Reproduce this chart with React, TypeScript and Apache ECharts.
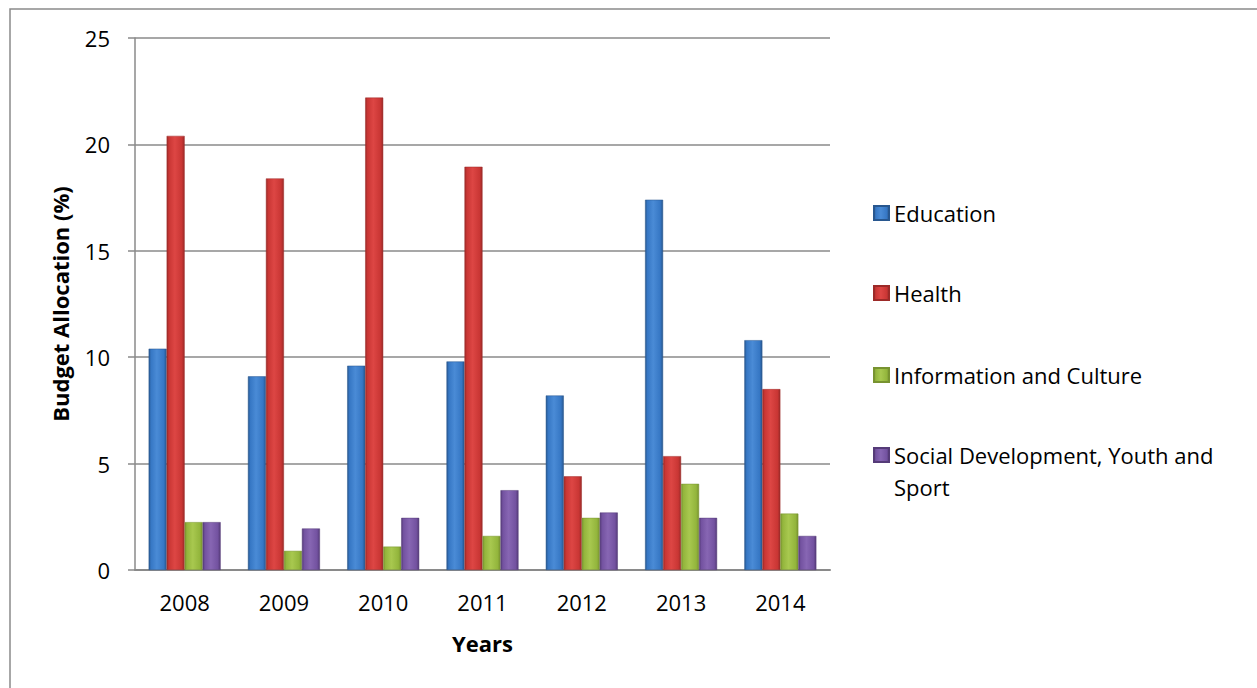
import React, { useEffect, useRef } from "react";
import * as echarts from "echarts";

const years = ["2008", "2009", "2010", "2011", "2012", "2013", "2014"];
const education = [10.4, 9.1, 9.6, 9.8, 8.2, 17.4, 10.8];
const health = [20.4, 18.4, 22.2, 18.95, 4.4, 5.35, 8.5];
const infoCulture = [2.25, 0.9, 1.1, 1.6, 2.45, 4.05, 2.65];
const socialDev = [2.25, 1.95, 2.45, 3.75, 2.7, 2.45, 1.6];
const seriesNames = [
  "Education",
  "Health",
  "Information and Culture",
  "Social Development, Youth and Sport",
];

const palette = [
  { edge: "#28578f", mid: "#3677c4", light: "#4a8bd6" },
  { edge: "#9c2a28", mid: "#c93634", light: "#dd4644" },
  { edge: "#789330", mid: "#93b53c", light: "#a8c84f" },
  { edge: "#553b78", mid: "#7352a0", light: "#8766b3" },
];

function grad(p: { edge: string; mid: string; light: string }) {
  return new echarts.graphic.LinearGradient(0, 0, 1, 0, [
    { offset: 0, color: p.edge },
    { offset: 0.12, color: p.mid },
    { offset: 0.45, color: p.light },
    { offset: 0.85, color: p.mid },
    { offset: 1, color: p.edge },
  ]);
}

const FONT = "'Open Sans', sans-serif";

export default function App() {
  const ref = useRef<HTMLDivElement>(null);
  useEffect(() => {
    if (!ref.current) return;
    const chart = echarts.init(ref.current, undefined, { renderer: "svg" });
    const dataSets = [education, health, infoCulture, socialDev];
    const legendTops = [192, 272, 354, 402];
    chart.setOption({
      animation: false,
      backgroundColor: "#ffffff",
      textStyle: { fontFamily: FONT },
      graphic: [
        {
          type: "rect",
          shape: { x: 10, y: 9, width: 1400, height: 800 },
          style: { fill: "none", stroke: "#8a8a8a", lineWidth: 1.5 },
          silent: true,
        },
      ],
      grid: { left: 135, right: 427, top: 38, bottom: 118 },
      legend: seriesNames.map((n, i) => ({
        data: [n],
        orient: "vertical",
        left: 868,
        top: legendTops[i],
        itemWidth: 15,
        itemHeight: 14,
        icon: "rect",
        selectedMode: false,
        formatter: (name: string) =>
          name === "Social Development, Youth and Sport"
            ? "\nSocial Development, Youth and\nSport"
            : name,
        textStyle: {
          fontFamily: FONT,
          fontSize: 22,
          color: "#000",
          lineHeight: 32,
        },
      })),
      xAxis: {
        type: "category",
        data: years,
        name: "Years",
        nameLocation: "middle",
        nameGap: 62,
        nameTextStyle: { fontFamily: FONT, fontSize: 22, fontWeight: "bold", color: "#000" },
        axisLine: { lineStyle: { color: "#8a8a8a", width: 2 } },
        axisTick: { show: false },
        axisLabel: { fontFamily: FONT, fontSize: 22, color: "#000", margin: 21 },
      },
      yAxis: {
        type: "value",
        min: 0,
        max: 25,
        interval: 5,
        name: "Budget Allocation (%)",
        nameLocation: "middle",
        nameGap: 64,
        nameTextStyle: { fontFamily: FONT, fontSize: 22, fontWeight: "bold", color: "#000" },
        axisLine: { show: true, lineStyle: { color: "#8a8a8a", width: 1.5 } },
        axisTick: { show: true, length: 7, lineStyle: { color: "#8a8a8a", width: 1.5 } },
        axisLabel: { fontFamily: FONT, fontSize: 22, color: "#000", margin: 25 },
        splitLine: { lineStyle: { color: "#8a8a8a", width: 1.5 } },
      },
      series: seriesNames.map((n, i) => ({
        name: n,
        type: "bar",
        data: dataSets[i],
        barWidth: 18,
        barGap: "0%",
        itemStyle: {
          color: grad(palette[i]),
          borderColor: palette[i].edge,
          borderWidth: 0.5,
        },
      })),
    });
    return () => chart.dispose();
  }, []);
  return (
    <div
      ref={ref}
      style={{ position: "absolute", left: 0, top: 0, width: 1257, height: 688 }}
    />
  );
}
